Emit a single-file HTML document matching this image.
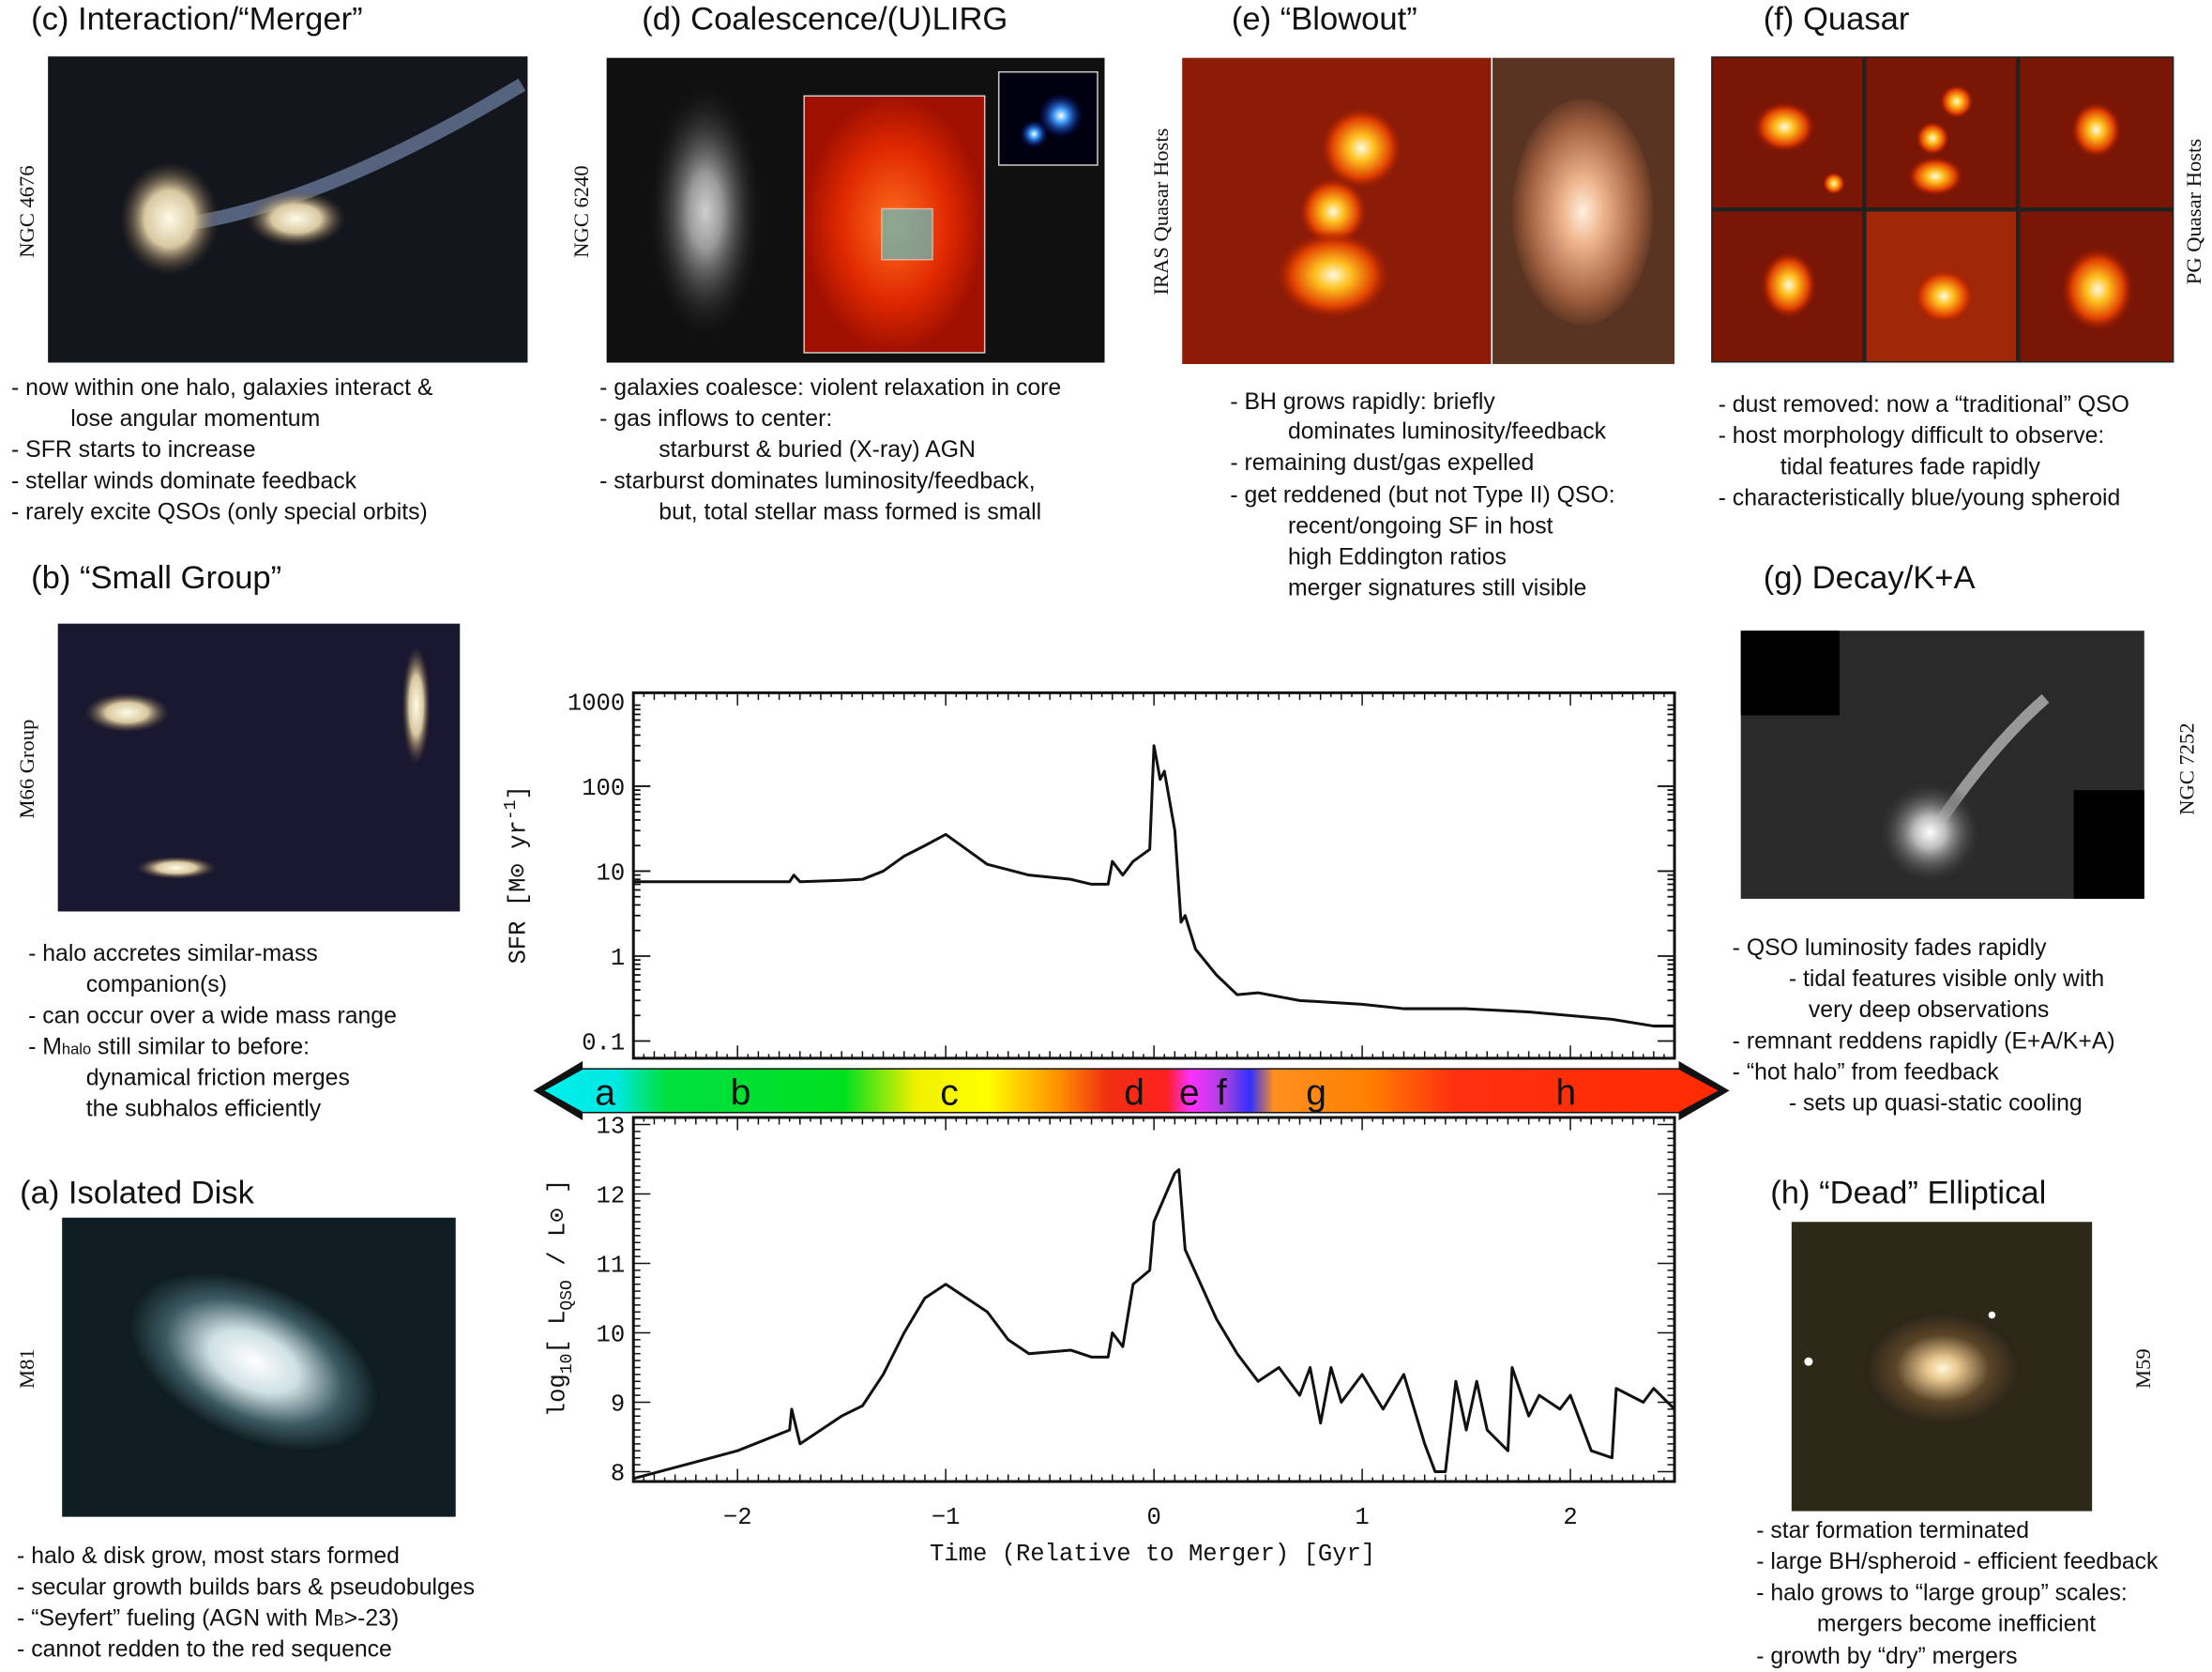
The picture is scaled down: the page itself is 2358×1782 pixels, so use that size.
<!DOCTYPE html>
<html><head><meta charset="utf-8">
<style>
html,body{margin:0;padding:0;background:#fff;}
svg{display:block;}
.t{font-family:"Liberation Sans",sans-serif;font-size:16.5px;fill:#111;}
.h{font-family:"Liberation Sans",sans-serif;font-size:23px;fill:#111;}
.lab{font-family:"Liberation Serif",serif;font-size:15px;fill:#111;}
.ax{font-family:"Liberation Mono",monospace;font-size:17px;fill:#111;}
.band{font-family:"Liberation Sans",sans-serif;font-size:26px;fill:#111;}
</style></head>
<body>
<svg id="fig" width="2358" height="1782" viewBox="0 0 1568 1185" xmlns="http://www.w3.org/2000/svg">
<defs>
<radialGradient id="gSpiral" cx="50%" cy="50%" r="50%"><stop offset="0" stop-color="#fff"/><stop offset="0.35" stop-color="#cfe0e4"/><stop offset="0.7" stop-color="#3c5a62"/><stop offset="1" stop-color="#0c1a1e"/></radialGradient>
<radialGradient id="gEll" cx="50%" cy="50%" r="50%"><stop offset="0" stop-color="#fff6d8"/><stop offset="0.2" stop-color="#e8c890"/><stop offset="0.6" stop-color="#5a4428"/><stop offset="1" stop-color="#2a2418"/></radialGradient>
<radialGradient id="gHot" cx="50%" cy="50%" r="50%"><stop offset="0" stop-color="#fffbe0"/><stop offset="0.3" stop-color="#ffc020"/><stop offset="0.7" stop-color="#e04000"/><stop offset="1" stop-color="#901000" stop-opacity="0"/></radialGradient>
<radialGradient id="gRedGlow" cx="50%" cy="50%" r="50%"><stop offset="0" stop-color="#ff7020"/><stop offset="0.6" stop-color="#e02800"/><stop offset="1" stop-color="#a01000"/></radialGradient>
<radialGradient id="gBrown" cx="50%" cy="50%" r="55%"><stop offset="0" stop-color="#fff0e0"/><stop offset="0.25" stop-color="#f0b890"/><stop offset="0.7" stop-color="#a06040"/><stop offset="1" stop-color="#4a2818"/></radialGradient>
<radialGradient id="gGrey" cx="50%" cy="50%" r="50%"><stop offset="0" stop-color="#fff"/><stop offset="0.3" stop-color="#bbb"/><stop offset="1" stop-color="#222" stop-opacity="0"/></radialGradient>
<radialGradient id="gDisk" cx="50%" cy="50%" r="50%"><stop offset="0" stop-color="#fffbe8"/><stop offset="0.5" stop-color="#d8c8a0"/><stop offset="1" stop-color="#604830" stop-opacity="0"/></radialGradient>
<radialGradient id="gBlue" cx="50%" cy="50%" r="50%"><stop offset="0" stop-color="#fff"/><stop offset="0.3" stop-color="#40a0ff"/><stop offset="1" stop-color="#0010a0" stop-opacity="0"/></radialGradient>
<linearGradient id="bandGrad" x1="378" x2="1225" y1="0" y2="0" gradientUnits="userSpaceOnUse">
<stop offset="0" stop-color="#00f0f0"/><stop offset="0.07" stop-color="#00e8e0"/><stop offset="0.11" stop-color="#00e040"/><stop offset="0.26" stop-color="#00e020"/><stop offset="0.32" stop-color="#f0f000"/><stop offset="0.38" stop-color="#ffff00"/><stop offset="0.44" stop-color="#ff9000"/><stop offset="0.48" stop-color="#f03010"/><stop offset="0.53" stop-color="#ff2020"/><stop offset="0.55" stop-color="#ff30ff"/><stop offset="0.58" stop-color="#a040e0"/><stop offset="0.6" stop-color="#3030ff"/><stop offset="0.62" stop-color="#ff9020"/><stop offset="0.7" stop-color="#ff8000"/><stop offset="0.77" stop-color="#ff3010"/><stop offset="1" stop-color="#ff2a00"/></linearGradient>
</defs>

<!-- (c) -->
<text class="h" x="22" y="21">(c) Interaction/“Merger”</text>
<g>
<rect x="34" y="40" width="340" height="217" fill="#14161e"/>
<path d="M120 160 Q220 150 370 60" stroke="#8098c0" stroke-width="10" fill="none" opacity="0.6"/>
<ellipse cx="120" cy="155" rx="35" ry="40" fill="url(#gDisk)"/>
<ellipse cx="210" cy="155" rx="35" ry="20" fill="url(#gDisk)"/>
</g>
<text class="lab" transform="translate(24,150) rotate(-90)" text-anchor="middle">NGC 4676</text>
<text class="t" x="8" y="280">- now within one halo, galaxies interact &amp;</text>
<text class="t" x="50" y="302">lose angular momentum</text>
<text class="t" x="8" y="324">- SFR starts to increase</text>
<text class="t" x="8" y="346">- stellar winds dominate feedback</text>
<text class="t" x="8" y="368">- rarely excite QSOs (only special orbits)</text>

<!-- (d) -->
<text class="h" x="455" y="21">(d) Coalescence/(U)LIRG</text>
<g>
<rect x="430" y="41" width="353" height="216" fill="#101010"/>
<ellipse cx="500" cy="150" rx="40" ry="90" fill="url(#gGrey)" opacity="0.8"/>
<rect x="570" y="68" width="128" height="182" fill="url(#gRedGlow)" stroke="#ccc" stroke-width="1"/>
<rect x="625" y="148" width="36" height="36" fill="#60c0c0" opacity="0.7" stroke="#ddd"/>
<rect x="708" y="51" width="70" height="66" fill="#000010" stroke="#ccc"/>
<circle cx="752" cy="82" r="16" fill="url(#gBlue)"/>
<circle cx="733" cy="95" r="10" fill="url(#gBlue)"/>
</g>
<text class="lab" transform="translate(417,150) rotate(-90)" text-anchor="middle">NGC 6240</text>
<text class="t" x="425" y="280">- galaxies coalesce: violent relaxation in core</text>
<text class="t" x="425" y="302">- gas inflows to center:</text>
<text class="t" x="467" y="324">starburst &amp; buried (X-ray) AGN</text>
<text class="t" x="425" y="346">- starburst dominates luminosity/feedback,</text>
<text class="t" x="467" y="368">but, total stellar mass formed is small</text>

<!-- (e) -->
<text class="h" x="873" y="21">(e) “Blowout”</text>
<g>
<rect x="838" y="41" width="219" height="217" fill="#8a1c08"/>
<circle cx="965" cy="105" r="30" fill="url(#gHot)"/>
<circle cx="945" cy="150" r="25" fill="url(#gHot)"/>
<ellipse cx="945" cy="195" rx="42" ry="32" fill="url(#gHot)"/>
<rect x="1058" y="41" width="129" height="217" fill="#5a3422"/>
<ellipse cx="1122" cy="150" rx="50" ry="80" fill="url(#gBrown)"/>
</g>
<text class="lab" transform="translate(828,150) rotate(-90)" text-anchor="middle">IRAS Quasar Hosts</text>
<text class="t" x="872" y="290">- BH grows rapidly: briefly</text>
<text class="t" x="913" y="311">dominates luminosity/feedback</text>
<text class="t" x="872" y="333">- remaining dust/gas expelled</text>
<text class="t" x="872" y="356">- get reddened (but not Type II) QSO:</text>
<text class="t" x="913" y="378">recent/ongoing SF in host</text>
<text class="t" x="913" y="400">high Eddington ratios</text>
<text class="t" x="913" y="422">merger signatures still visible</text>

<!-- (f) -->
<text class="h" x="1250" y="21">(f) Quasar</text>
<g>
<rect x="1213" y="40" width="328" height="217" fill="#222"/>
<rect x="1214" y="41" width="106" height="106" fill="#7a1606"/><ellipse cx="1265" cy="90" rx="22" ry="18" fill="url(#gHot)"/><circle cx="1300" cy="130" r="8" fill="url(#gHot)"/>
<rect x="1323" y="41" width="106" height="106" fill="#7a1606"/><circle cx="1387" cy="72" r="12" fill="url(#gHot)"/><circle cx="1370" cy="98" r="12" fill="url(#gHot)"/><ellipse cx="1372" cy="125" rx="20" ry="14" fill="url(#gHot)"/>
<rect x="1432" y="41" width="108" height="106" fill="#7a1606"/><ellipse cx="1486" cy="92" rx="18" ry="20" fill="url(#gHot)"/>
<rect x="1214" y="150" width="106" height="106" fill="#7a1606"/><ellipse cx="1268" cy="202" rx="20" ry="24" fill="url(#gHot)"/>
<rect x="1323" y="150" width="106" height="106" fill="#a02808"/><ellipse cx="1378" cy="210" rx="22" ry="20" fill="url(#gHot)"/>
<rect x="1432" y="150" width="108" height="106" fill="#7a1606"/><ellipse cx="1487" cy="205" rx="26" ry="30" fill="url(#gHot)"/>
</g>
<text class="lab" transform="translate(1560,150) rotate(-90)" text-anchor="middle">PG Quasar Hosts</text>
<text class="t" x="1218" y="292">- dust removed: now a “traditional” QSO</text>
<text class="t" x="1218" y="314">- host morphology difficult to observe:</text>
<text class="t" x="1262" y="336">tidal features fade rapidly</text>
<text class="t" x="1218" y="358">- characteristically blue/young spheroid</text>

<!-- (b) -->
<text class="h" x="22" y="417">(b) “Small Group”</text>
<g>
<rect x="41" y="442" width="285" height="204" fill="#1a1830"/>
<ellipse cx="90" cy="505" rx="30" ry="14" fill="url(#gDisk)"/>
<ellipse cx="295" cy="500" rx="10" ry="42" fill="url(#gDisk)"/>
<ellipse cx="125" cy="615" rx="28" ry="8" fill="url(#gDisk)"/>
</g>
<text class="lab" transform="translate(24,545) rotate(-90)" text-anchor="middle">M66 Group</text>
<text class="t" x="20" y="681">- halo accretes similar-mass</text>
<text class="t" x="61" y="703">companion(s)</text>
<text class="t" x="20" y="725">- can occur over a wide mass range</text>
<text class="t" x="20" y="747">- M<tspan font-size="11">halo</tspan> still similar to before:</text>
<text class="t" x="61" y="769">dynamical friction merges</text>
<text class="t" x="61" y="791">the subhalos efficiently</text>

<!-- (g) -->
<text class="h" x="1250" y="417">(g) Decay/K+A</text>
<g>
<rect x="1234" y="447" width="286" height="190" fill="#2a2a2a"/>
<rect x="1234" y="447" width="70" height="60" fill="#000"/>
<rect x="1470" y="560" width="50" height="77" fill="#000"/>
<path d="M1370 590 Q1410 530 1450 495" stroke="#999" stroke-width="8" fill="none"/>
<circle cx="1368" cy="590" r="38" fill="url(#gGrey)"/>
</g>
<text class="lab" transform="translate(1555,545) rotate(-90)" text-anchor="middle">NGC 7252</text>
<text class="t" x="1228" y="677">- QSO luminosity fades rapidly</text>
<text class="t" x="1268" y="699">- tidal features visible only with</text>
<text class="t" x="1282" y="721">very deep observations</text>
<text class="t" x="1228" y="743">- remnant reddens rapidly (E+A/K+A)</text>
<text class="t" x="1228" y="765">- “hot halo” from feedback</text>
<text class="t" x="1268" y="787">- sets up quasi-static cooling</text>

<!-- (a) -->
<text class="h" x="14" y="853">(a) Isolated Disk</text>
<g>
<rect x="44" y="863" width="279" height="212" fill="#0e1e22"/>
<ellipse cx="180" cy="965" rx="95" ry="55" fill="url(#gSpiral)" transform="rotate(25 180 965)"/>
</g>
<text class="lab" transform="translate(24,970) rotate(-90)" text-anchor="middle">M81</text>
<text class="t" x="12" y="1108">- halo &amp; disk grow, most stars formed</text>
<text class="t" x="12" y="1130">- secular growth builds bars &amp; pseudobulges</text>
<text class="t" x="12" y="1152">- “Seyfert” fueling (AGN with M<tspan font-size="11">B</tspan>&gt;-23)</text>
<text class="t" x="12" y="1174">- cannot redden to the red sequence</text>

<!-- (h) -->
<text class="h" x="1255" y="853">(h) “Dead” Elliptical</text>
<g>
<rect x="1270" y="866" width="213" height="205" fill="#2e2818"/>
<ellipse cx="1377" cy="970" rx="55" ry="40" fill="url(#gEll)"/>
<circle cx="1282" cy="965" r="3" fill="#fff"/><circle cx="1412" cy="932" r="2.5" fill="#fff"/>
</g>
<text class="lab" transform="translate(1524,970) rotate(-90)" text-anchor="middle">M59</text>
<text class="t" x="1245" y="1090">- star formation terminated</text>
<text class="t" x="1245" y="1112">- large BH/spheroid - efficient feedback</text>
<text class="t" x="1245" y="1134">- halo grows to “large group” scales:</text>
<text class="t" x="1288" y="1156">mergers become inefficient</text>
<text class="t" x="1245" y="1179">- growth by “dry” mergers</text>

<!-- sequence band -->
<g>
<polygon points="378,773 413,752 413,757 1190,757 1190,752 1226,773 1190,794 1190,789 413,789 413,794" fill="#111"/>
<polygon points="386,773 413,758 1190,758 1218,773 1190,788 413,788" fill="url(#bandGrad)"/>
<text class="band" x="429" y="783" text-anchor="middle">a</text>
<text class="band" x="525" y="783" text-anchor="middle">b</text>
<text class="band" x="673" y="783" text-anchor="middle">c</text>
<text class="band" x="804" y="783" text-anchor="middle">d</text>
<text class="band" x="843" y="783" text-anchor="middle">e</text>
<text class="band" x="866" y="783" text-anchor="middle">f</text>
<text class="band" x="933" y="783" text-anchor="middle">g</text>
<text class="band" x="1110" y="783" text-anchor="middle">h</text>
</g>

<g id="chart"></g>
<text class="ax" transform="translate(372,620) rotate(-90)" text-anchor="middle">SFR  [M⊙ yr<tspan dy="-7" font-size="12">-1</tspan><tspan dy="7">]</tspan></text>
<text class="ax" transform="translate(400,920) rotate(-90)" text-anchor="middle">log<tspan dy="5" font-size="12">10</tspan><tspan dy="-5">[ L</tspan><tspan dy="5" font-size="12">QSO</tspan><tspan dy="-5"> / L⊙ ]</tspan></text>
<text class="ax" x="817" y="1106" text-anchor="middle">Time (Relative to Merger)  [Gyr]</text>
</svg>
<script>
const sfrTimes=[-2.5,-2.0,-1.75,-1.73,-1.7,-1.5,-1.4,-1.3,-1.2,-1.1,-1.0,-0.9,-0.8,-0.6,-0.4,-0.3,-0.22,-0.2,-0.15,-0.1,-0.02,0,0.03,0.05,0.1,0.13,0.15,0.2,0.3,0.4,0.5,0.7,1.0,1.2,1.5,1.8,2.2,2.4,2.5];
const sfrValues=[7.5,7.5,7.5,9,7.5,7.8,8,10,15,20,27,18,12,9,8,7,7,13,9,13,18,300,120,150,30,2.5,3,1.2,0.6,0.35,0.37,0.3,0.27,0.24,0.24,0.22,0.18,0.15,0.15];
const lqsoTimes=[-2.5,-2.0,-1.75,-1.74,-1.7,-1.6,-1.5,-1.4,-1.3,-1.2,-1.1,-1.0,-0.9,-0.8,-0.7,-0.6,-0.4,-0.3,-0.22,-0.2,-0.15,-0.1,-0.02,0,0.1,0.12,0.15,0.3,0.4,0.5,0.6,0.7,0.75,0.8,0.85,0.9,1.0,1.1,1.2,1.3,1.35,1.4,1.45,1.5,1.55,1.6,1.7,1.72,1.8,1.85,1.95,2.0,2.1,2.2,2.22,2.35,2.4,2.5];
const lqsoValues=[7.9,8.3,8.6,8.9,8.4,8.6,8.8,8.95,9.4,10.0,10.5,10.7,10.5,10.3,9.9,9.7,9.75,9.65,9.65,10.0,9.8,10.7,10.9,11.6,12.3,12.35,11.2,10.2,9.7,9.3,9.5,9.1,9.5,8.7,9.5,9.0,9.4,8.9,9.4,8.4,8.0,8.0,9.3,8.6,9.3,8.6,8.3,9.5,8.8,9.1,8.9,9.1,8.3,8.2,9.2,9.0,9.2,8.9];
const xTicks=[-2,-1,0,1,2];
const sfrTicks=[0.1,1,10,100,1000];
const sfrTickLabels=["0.1","1","10","100","1000"];
const lqsoTicks=[8,9,10,11,12,13];

const NS="http://www.w3.org/2000/svg";
const chart=document.getElementById('chart');
const X0=449,X1=1187;
const xs=t=>X0+(t+2.5)/5*(X1-X0);
const topY0=491,topY1=750, bY0=792,bY1=1050;
const ysfr=v=>497+(3-Math.log10(v))*60.2;
const ylq=v=>797+(13-v)*49.2;
function mk(tag,attrs){const e=document.createElementNS(NS,tag);for(const k in attrs)e.setAttribute(k,attrs[k]);chart.appendChild(e);return e;}
function frame(y0,y1,name){
  const r=mk('rect',{x:X0,y:y0,width:X1-X0,height:y1-y0,fill:'none',stroke:'#111','stroke-width':2});
  
  
  for(let t=-2.5;t<=2.5001;t+=0.05){
    const major=Math.abs(t-Math.round(t))<1e-6;
    const L=major?9:(Math.abs(t*10-Math.round(t*10))<1e-6?5:3);
    const x=xs(t);
    const a=mk('line',{x1:x,x2:x,y1:y1,y2:y1-L,stroke:'#111','stroke-width':1});
    
    
    const b=mk('line',{x1:x,x2:x,y1:y0,y2:y0+L,stroke:'#111','stroke-width':1});
    
    
  }
}
frame(topY0,topY1,'sfr-plot-frame');
frame(bY0,bY1,'lqso-plot-frame');
// sfr y ticks
for(let d=-1;d<=2;d++){for(let m=1;m<=9;m++){const v=m*Math.pow(10,d);const y=ysfr(v);const L=m===1?12:5;
  const a=mk('line',{x1:X0,x2:X0+L,y1:y,y2:y,stroke:'#111','stroke-width':1.2});
  
  
  const b=mk('line',{x1:X1,x2:X1-L,y1:y,y2:y,stroke:'#111','stroke-width':1.2});
  
  }}
sfrTicks.forEach((v,i)=>{const t=mk('text',{x:X0-6,y:ysfr(v)+6,'text-anchor':'end',class:'ax'});t.textContent=sfrTickLabels[i];
  
  });
// lqso y ticks
for(let v=8;v<=13.0001;v+=0.1){const y=ylq(v);const L=Math.abs(v-Math.round(v))<1e-6?12:5;
  const a=mk('line',{x1:X0,x2:X0+L,y1:y,y2:y,stroke:'#111','stroke-width':1});
  
  
  const b=mk('line',{x1:X1,x2:X1-L,y1:y,y2:y,stroke:'#111','stroke-width':1});
  
  }
lqsoTicks.forEach(v=>{const t=mk('text',{x:X0-6,y:ylq(v)+6,'text-anchor':'end',class:'ax'});t.textContent=String(v);
  
  });
xTicks.forEach(v=>{const t=mk('text',{x:xs(v),y:1080,'text-anchor':'middle',class:'ax'});t.textContent=v<0?'−'+(-v):String(v);
  
  });
// series
const p1=mk('path',{d:sfrTimes.map((t,i)=>(i?'L':'M')+xs(t).toFixed(1)+' '+ysfr(sfrValues[i]).toFixed(1)).join(' '),fill:'none',stroke:'#111','stroke-width':2,'stroke-linejoin':'round'});


const p2=mk('path',{d:lqsoTimes.map((t,i)=>(i?'L':'M')+xs(t).toFixed(1)+' '+ylq(lqsoValues[i]).toFixed(1)).join(' '),fill:'none',stroke:'#111','stroke-width':2,'stroke-linejoin':'round'});


</script>
</body></html>
